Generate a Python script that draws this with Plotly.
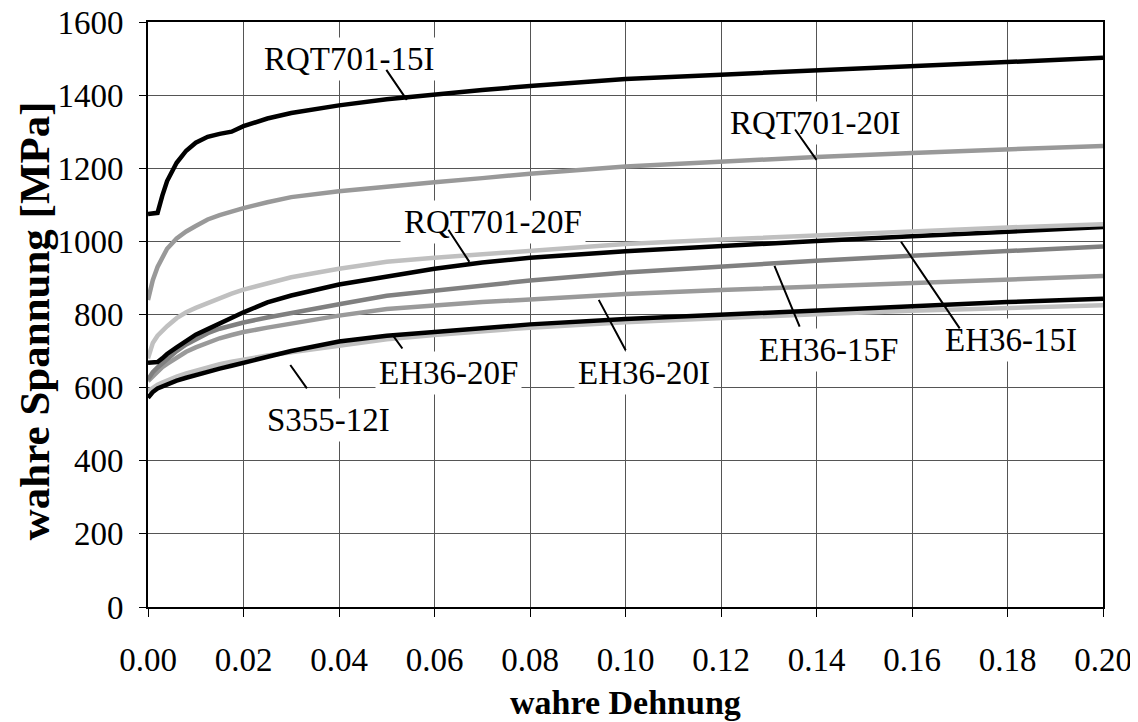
import plotly.graph_objects as go

# ---- data -------------------------------------------------------------
strain = [0, 0.001, 0.002, 0.003, 0.004, 0.006, 0.008, 0.010, 0.0125, 0.015,
          0.0175, 0.02, 0.025, 0.03, 0.04, 0.05, 0.06, 0.07, 0.08, 0.10,
          0.12, 0.14, 0.16, 0.18, 0.20]

rqt701_15i = [1075, 1076, 1078, 1125, 1165, 1215, 1248, 1270, 1286, 1294,
              1300, 1315, 1336, 1351, 1372, 1389, 1403, 1414, 1425, 1444,
              1456, 1467, 1478, 1490, 1502]
rqt701_20i = [840, 894, 930, 958, 980, 1008, 1027, 1042, 1060, 1072,
              1083, 1091, 1107, 1121, 1137, 1151, 1162, 1173, 1185, 1205,
              1219, 1231, 1242, 1252, 1261]
rqt701_20f = [680, 722, 742, 756, 768, 790, 806, 818, 832, 845,
              857, 868, 885, 902, 925, 944, 955, 965, 976, 993,
              1005, 1017, 1028, 1038, 1047]
eh36_15i = [668, 668, 670, 680, 692, 710, 728, 745, 760, 776,
            792, 806, 833, 852, 882, 905, 925, 942, 955, 973,
            988, 1001, 1014, 1027, 1039]
eh36_15f = [622, 642, 655, 667, 677, 700, 718, 733, 749, 761,
            770, 778, 792, 805, 828, 851, 866, 880, 893, 915,
            932, 947, 961, 974, 986]
eh36_20i = [618, 632, 645, 656, 665, 683, 698, 710, 724, 735,
            744, 752, 764, 775, 797, 815, 826, 834, 841, 856,
            867, 877, 887, 896, 905]
eh36_20f = [572, 588, 598, 604, 610, 619, 627, 635, 644, 652,
            660, 668, 684, 700, 726, 742, 752, 764, 773, 788,
            800, 812, 824, 834, 843]
s355_12i = [590, 600, 608, 614, 620, 630, 639, 647, 656, 664,
            671, 677, 688, 697, 716, 732, 744, 755, 764, 779,
            791, 801, 810, 818, 825]

series_names = ["S355-12I", "EH36-20F", "EH36-20I", "EH36-15F", "EH36-15I",
                "RQT701-20F", "RQT701-20I", "RQT701-15I"]
series_values = [s355_12i, eh36_20f, eh36_20i, eh36_15f, eh36_15i,
                 rqt701_20f, rqt701_20i, rqt701_15i]
series_colors = ["#c0c0c0", "#000000", "#9a9a9a", "#808080", "#000000",
                 "#c0c0c0", "#999999", "#000000"]

# label text positions and leader lines (data coordinates)
label_text = ["RQT701-15I", "RQT701-20I", "RQT701-20F", "EH36-20F",
              "EH36-20I", "EH36-15F", "EH36-15I", "S355-12I"]
label_x = [0.0420, 0.1396, 0.0723, 0.0629, 0.1038, 0.1426, 0.1807, 0.0379]
label_y = [1500, 1324, 1053, 641, 640, 703, 730, 511]
leader_x0 = [0.0497, 0.1353, 0.0627, 0.0535, 0.1002, 0.1366, 0.1702, 0.0335]
leader_y0 = [1473, 1310, 1036, 703, 698, 763, 758, 594]
leader_x1 = [0.0542, 0.1400, 0.0673, 0.0514, 0.0944, 0.1312, 0.1577, 0.0298]
leader_y1 = [1387, 1223, 944, 741, 840, 933, 999, 662]

x_ticks = [0.00, 0.02, 0.04, 0.06, 0.08, 0.10, 0.12, 0.14, 0.16, 0.18, 0.20]
y_ticks = [0, 200, 400, 600, 800, 1000, 1200, 1400, 1600]

x_title = "wahre Dehnung"
y_title = "wahre Spannung [MPa]"

FONT = "Liberation Serif"

# ---- figure -----------------------------------------------------------
fig = go.Figure()
for name, vals, col in zip(series_names, series_values, series_colors):
    fig.add_trace(go.Scatter(x=strain, y=vals, mode="lines", name=name,
                             line=dict(color=col, width=4.5),
                             showlegend=False))

annotations = []
for t, x, y in zip(label_text, label_x, label_y):
    annotations.append(dict(x=x, y=y, xref="x", yref="y", text=t,
                            showarrow=False, bgcolor="white", borderpad=3,
                            font=dict(family=FONT, size=33, color="black")))
for x0, y0, x1, y1 in zip(leader_x0, leader_y0, leader_x1, leader_y1):
    annotations.append(dict(x=x1, y=y1, ax=x0, ay=y0, xref="x", yref="y",
                            axref="x", ayref="y", text="", showarrow=True,
                            arrowhead=0, arrowwidth=2, arrowcolor="black",
                            standoff=0, startstandoff=0))
# axis titles
annotations.append(dict(x=0.5, y=-0.163, xref="paper", yref="paper",
                        text="<b>" + x_title + "</b>", showarrow=False,
                        xanchor="center", yanchor="middle",
                        font=dict(family=FONT, size=34, color="black")))
annotations.append(dict(x=-0.1195, y=0.49, xref="paper", yref="paper",
                        text="<b>" + y_title + "</b>", showarrow=False,
                        textangle=-90, xanchor="center", yanchor="middle",
                        borderpad=0,
                        font=dict(family=FONT, size=43, color="black")))

# the page body adds an 8px margin on the top/left; the figure fills the rest
fig.update_layout(
    width=1130, height=714,
    margin=dict(l=140, r=35, t=14, b=115, autoexpand=False),
    paper_bgcolor="white", plot_bgcolor="white",
    font=dict(family=FONT, size=33, color="black"),
    annotations=annotations,
)
fig.update_xaxes(range=[0, 0.2], tickvals=x_ticks, tickformat=".2f",
                 tickfont=dict(family=FONT, size=33, color="black"),
                 showgrid=True, gridcolor="#555555", gridwidth=1,
                 showline=True, linecolor="black", linewidth=2, mirror=True,
                 ticks="outside", ticklen=8, tickcolor="black",
                 ticklabelstandoff=14, automargin=False,
                 ticklabeloverflow="allow", zeroline=False)
fig.update_yaxes(range=[0, 1600], tickvals=y_ticks,
                 tickfont=dict(family=FONT, size=33, color="black"),
                 showgrid=True, gridcolor="#555555", gridwidth=1,
                 showline=True, linecolor="black", linewidth=2, mirror=True,
                 ticks="outside", ticklen=7, tickcolor="black",
                 ticklabelstandoff=9, automargin=False,
                 ticklabeloverflow="allow", zeroline=False)

fig.write_html("out.html")
